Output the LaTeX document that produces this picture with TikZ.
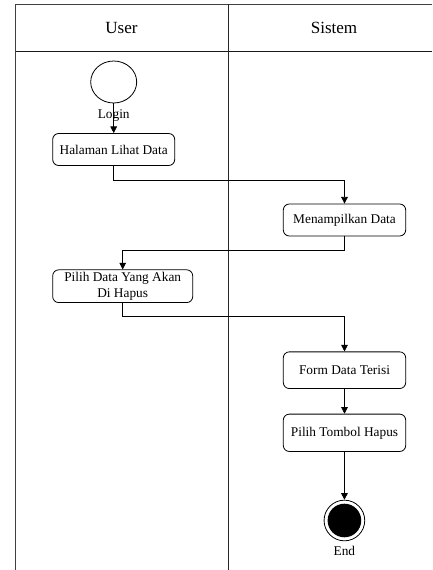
\documentclass[tikz,border=0pt]{standalone}
\usepackage{fontspec}
\setmainfont{Liberation Serif}
\usetikzlibrary{arrows.meta,shapes.geometric}
\begin{document}
\begin{tikzpicture}[x=0.75pt,y=-0.75pt,
  lane/.style={draw=black!75, line width=0.7pt},
  act/.style={draw, rounded corners=4.5pt, line width=0.6pt, minimum height=24pt, inner sep=2pt, align=center, font=\fontsize{10}{11.5}\selectfont},
  arr/.style={draw, line width=0.6pt, -{Triangle[length=5pt,width=5pt]}},
  head/.style={font=\fontsize{12.8}{14}\selectfont},
  lbl/.style={font=\fontsize{10}{11.5}\selectfont, inner sep=1pt}]
\useasboundingbox (0,0) rectangle (432,570);
% swimlanes
\draw[lane] (15,4.3) -- (432,4.3);
\draw[lane, draw=black!90] (15,51.7) -- (432,51.7);
\draw[lane] (15,4.3) -- (15,570);
\draw[lane, draw=black!85] (228,4.3) -- (228,570);
\node[head] (huser) at (121.5,28) {User};
\node[head] (hsis) at (334,28) {Sistem};
% nodes
\node[draw, ellipse, line width=0.6pt, minimum width=34.5pt, minimum height=31.5pt, inner sep=0pt] (start) at (113.7,82) {};
\node[act, minimum width=91.5pt] (hal) at (113.7,149.5) {Halaman Lihat Data};
\node[act, minimum width=91.8pt] (men) at (344.5,220) {Menampilkan Data};
\node[act, minimum width=105pt] (pil) at (122.7,286.2) {Pilih Data Yang Akan\\Di Hapus};
\node[act, minimum width=91.8pt, minimum height=27.5pt] (form) at (344.5,370.2) {Form Data Terisi};
\node[act, minimum width=91.8pt, minimum height=28pt] (tom) at (344.5,432.8) {Pilih Tombol Hapus};
\node[draw, circle, line width=0.6pt, minimum size=30.5pt, inner sep=0pt] (end) at (344.4,520.5) {};
\fill (end.center) circle (12.6pt);
\node[lbl] (endl) at (344.4,551) {End};
% connectors
\draw[arr] (start) -- node[lbl, pos=0.42] {Login} (hal);
\draw[arr] (hal.south) -- ++(0,14.3) -| (men.north);
\draw[arr] (men.south) -- ++(0,14.3) -| (pil.north);
\draw[arr] (pil.south) -- ++(0,13.7) -| (form.north);
\draw[arr] (form) -- (tom);
\draw[arr] (tom) -- (end);
\end{tikzpicture}
\end{document}
